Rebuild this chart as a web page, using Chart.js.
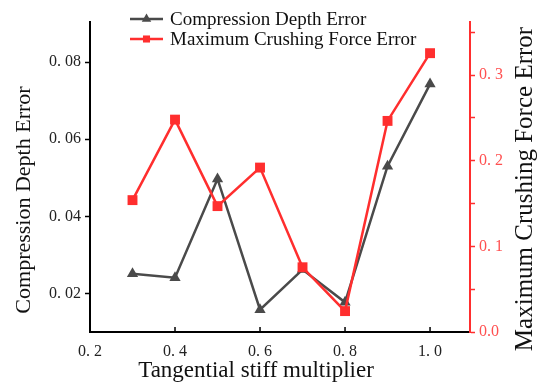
<!DOCTYPE html>
<html>
<head>
<meta charset="utf-8">
<script src="https://cdn.jsdelivr.net/npm/chart.js@4"></script>
<style>
html, body { margin: 0; padding: 0; background: #fff; }
</style>
</head>
<body>
<canvas id="chart" width="539" height="387"></canvas>
<script>
// Data
const multipliers = [0.3, 0.4, 0.5, 0.6, 0.7, 0.8, 0.9, 1.0];
const depthError = [0.0251, 0.0241, 0.0497, 0.0158, 0.0262, 0.0177, 0.0530, 0.0743];
const forceError = [0.154, 0.248, 0.147, 0.192, 0.0756, 0.0244, 0.2465, 0.3256];
const xTicks = [0.2, 0.4, 0.6, 0.8, 1.0];
const xLabels = ['0. 2', '0. 4', '0. 6', '0. 8', '1. 0'];
const leftTicks = [0.02, 0.04, 0.06, 0.08];
const leftLabels = ['0. 02', '0. 04', '0. 06', '0. 08'];
const rightTicks = [0, 0.05, 0.1, 0.15, 0.2, 0.25, 0.3, 0.35];
const rightLabels = ['0.0', '', '0. 1', '', '0. 2', '', '0. 3', ''];

const GRAY = '#4a4a4a';
const RED = '#ff2e2e';
const SERIF = "'Liberation Serif', 'DejaVu Serif', serif";

function labelFor(ticks, labels) {
    return function(value) {
        const i = ticks.findIndex(t => Math.abs(t - value) < 1e-9);
        return i >= 0 ? labels[i] : '';
    };
}

// Inward x ticks, axis titles and legend
const decor = {
    id: 'decor',
    afterDraw(chart) {
        const ctx = chart.ctx;
        const a = chart.chartArea;
        const x = chart.scales.x;
        ctx.save();

        ctx.strokeStyle = '#000';
        ctx.lineWidth = 1.5;
        xTicks.forEach(v => {
            const px = x.getPixelForValue(v);
            ctx.beginPath();
            ctx.moveTo(px, a.bottom);
            ctx.lineTo(px, a.bottom - 5);
            ctx.stroke();
        });

        // axis titles
        ctx.fillStyle = '#111';
        ctx.textAlign = 'center';
        ctx.textBaseline = 'middle';
        ctx.font = '23px ' + SERIF;
        ctx.fillText('Tangential stiff multiplier', 256, 371);

        ctx.save();
        ctx.font = '22px ' + SERIF;
        ctx.translate(24, 200);
        ctx.rotate(-Math.PI / 2);
        ctx.fillText('Compression Depth Error', 0, 0);
        ctx.restore();

        ctx.save();
        ctx.font = '25px ' + SERIF;
        ctx.translate(525, 189);
        ctx.rotate(-Math.PI / 2);
        ctx.fillText('Maximum Crushing Force Error', 0, 0);
        ctx.restore();

        // legend
        ctx.font = '19px ' + SERIF;
        ctx.textAlign = 'left';
        chart.data.datasets.forEach((ds, i) => {
            const ly = 19 + i * 20;
            ctx.strokeStyle = ds.borderColor;
            ctx.lineWidth = 2.5;
            ctx.beginPath();
            ctx.moveTo(130, ly);
            ctx.lineTo(163, ly);
            ctx.stroke();
            ctx.fillStyle = ds.borderColor;
            Chart.helpers.drawPoint(ctx, {
                pointStyle: ds.pointStyle,
                radius: ds.pointStyle === 'rect' ? 5 : 5.5,
                rotation: 0,
                borderWidth: 0
            }, 146.5, ly);
            ctx.fillStyle = '#111';
            ctx.fillText(ds.label, 170, ly + 1);
        });
        ctx.restore();
    }
};

const chart = new Chart(document.getElementById('chart').getContext('2d'), {
    type: 'line',
    data: {
        datasets: [{
            label: 'Compression Depth Error',
            data: multipliers.map((m, i) => ({ x: m, y: depthError[i] })),
            yAxisID: 'y',
            borderColor: GRAY,
            backgroundColor: GRAY,
            borderWidth: 2.5,
            pointStyle: 'triangle',
            pointRadius: 6.5,
            pointBorderWidth: 0,
            order: 1
        }, {
            label: 'Maximum Crushing Force Error',
            data: multipliers.map((m, i) => ({ x: m, y: forceError[i] })),
            yAxisID: 'y1',
            borderColor: RED,
            backgroundColor: RED,
            borderWidth: 2.5,
            pointStyle: 'rect',
            pointRadius: 7,
            pointBorderWidth: 0,
            order: 0
        }]
    },
    options: {
        responsive: false,
        animation: false,
        devicePixelRatio: 1,
        layout: { padding: { top: 22, right: 0, left: 0, bottom: 0 } },
        plugins: {
            legend: { display: false },
            tooltip: { enabled: false }
        },
        scales: {
            x: {
                type: 'linear',
                min: 0.2,
                max: 1.094,
                afterBuildTicks: s => { s.ticks = xTicks.map(v => ({ value: v })); },
                afterFit: s => { s.height = 55; },
                grid: { display: false },
                border: { color: '#000', width: 2 },
                ticks: {
                    callback: labelFor(xTicks, xLabels),
                    color: '#222',
                    font: { family: SERIF, size: 16 },
                    padding: 2,
                    maxRotation: 0
                }
            },
            y: {
                position: 'left',
                min: 0.01,
                max: 0.0904,
                afterBuildTicks: s => { s.ticks = leftTicks.map(v => ({ value: v })); },
                afterFit: s => { s.width = 90; },
                grid: { drawOnChartArea: false, tickLength: 5, color: '#000', tickWidth: 1.5 },
                border: { color: '#000', width: 2 },
                ticks: {
                    callback: labelFor(leftTicks, leftLabels),
                    color: '#222',
                    font: { family: SERIF, size: 16 },
                    padding: 4
                }
            },
            y1: {
                position: 'right',
                min: 0,
                max: 0.362,
                afterBuildTicks: s => { s.ticks = rightTicks.map(v => ({ value: v })); },
                afterFit: s => { s.width = 69; },
                grid: { drawOnChartArea: false, tickLength: 5, color: RED, tickWidth: 1.5 },
                border: { color: RED, width: 2 },
                ticks: {
                    callback: labelFor(rightTicks, rightLabels),
                    color: '#ff5050',
                    font: { family: SERIF, size: 16 },
                    padding: 4
                }
            }
        }
    },
    plugins: [decor]
});
</script>
</body>
</html>
